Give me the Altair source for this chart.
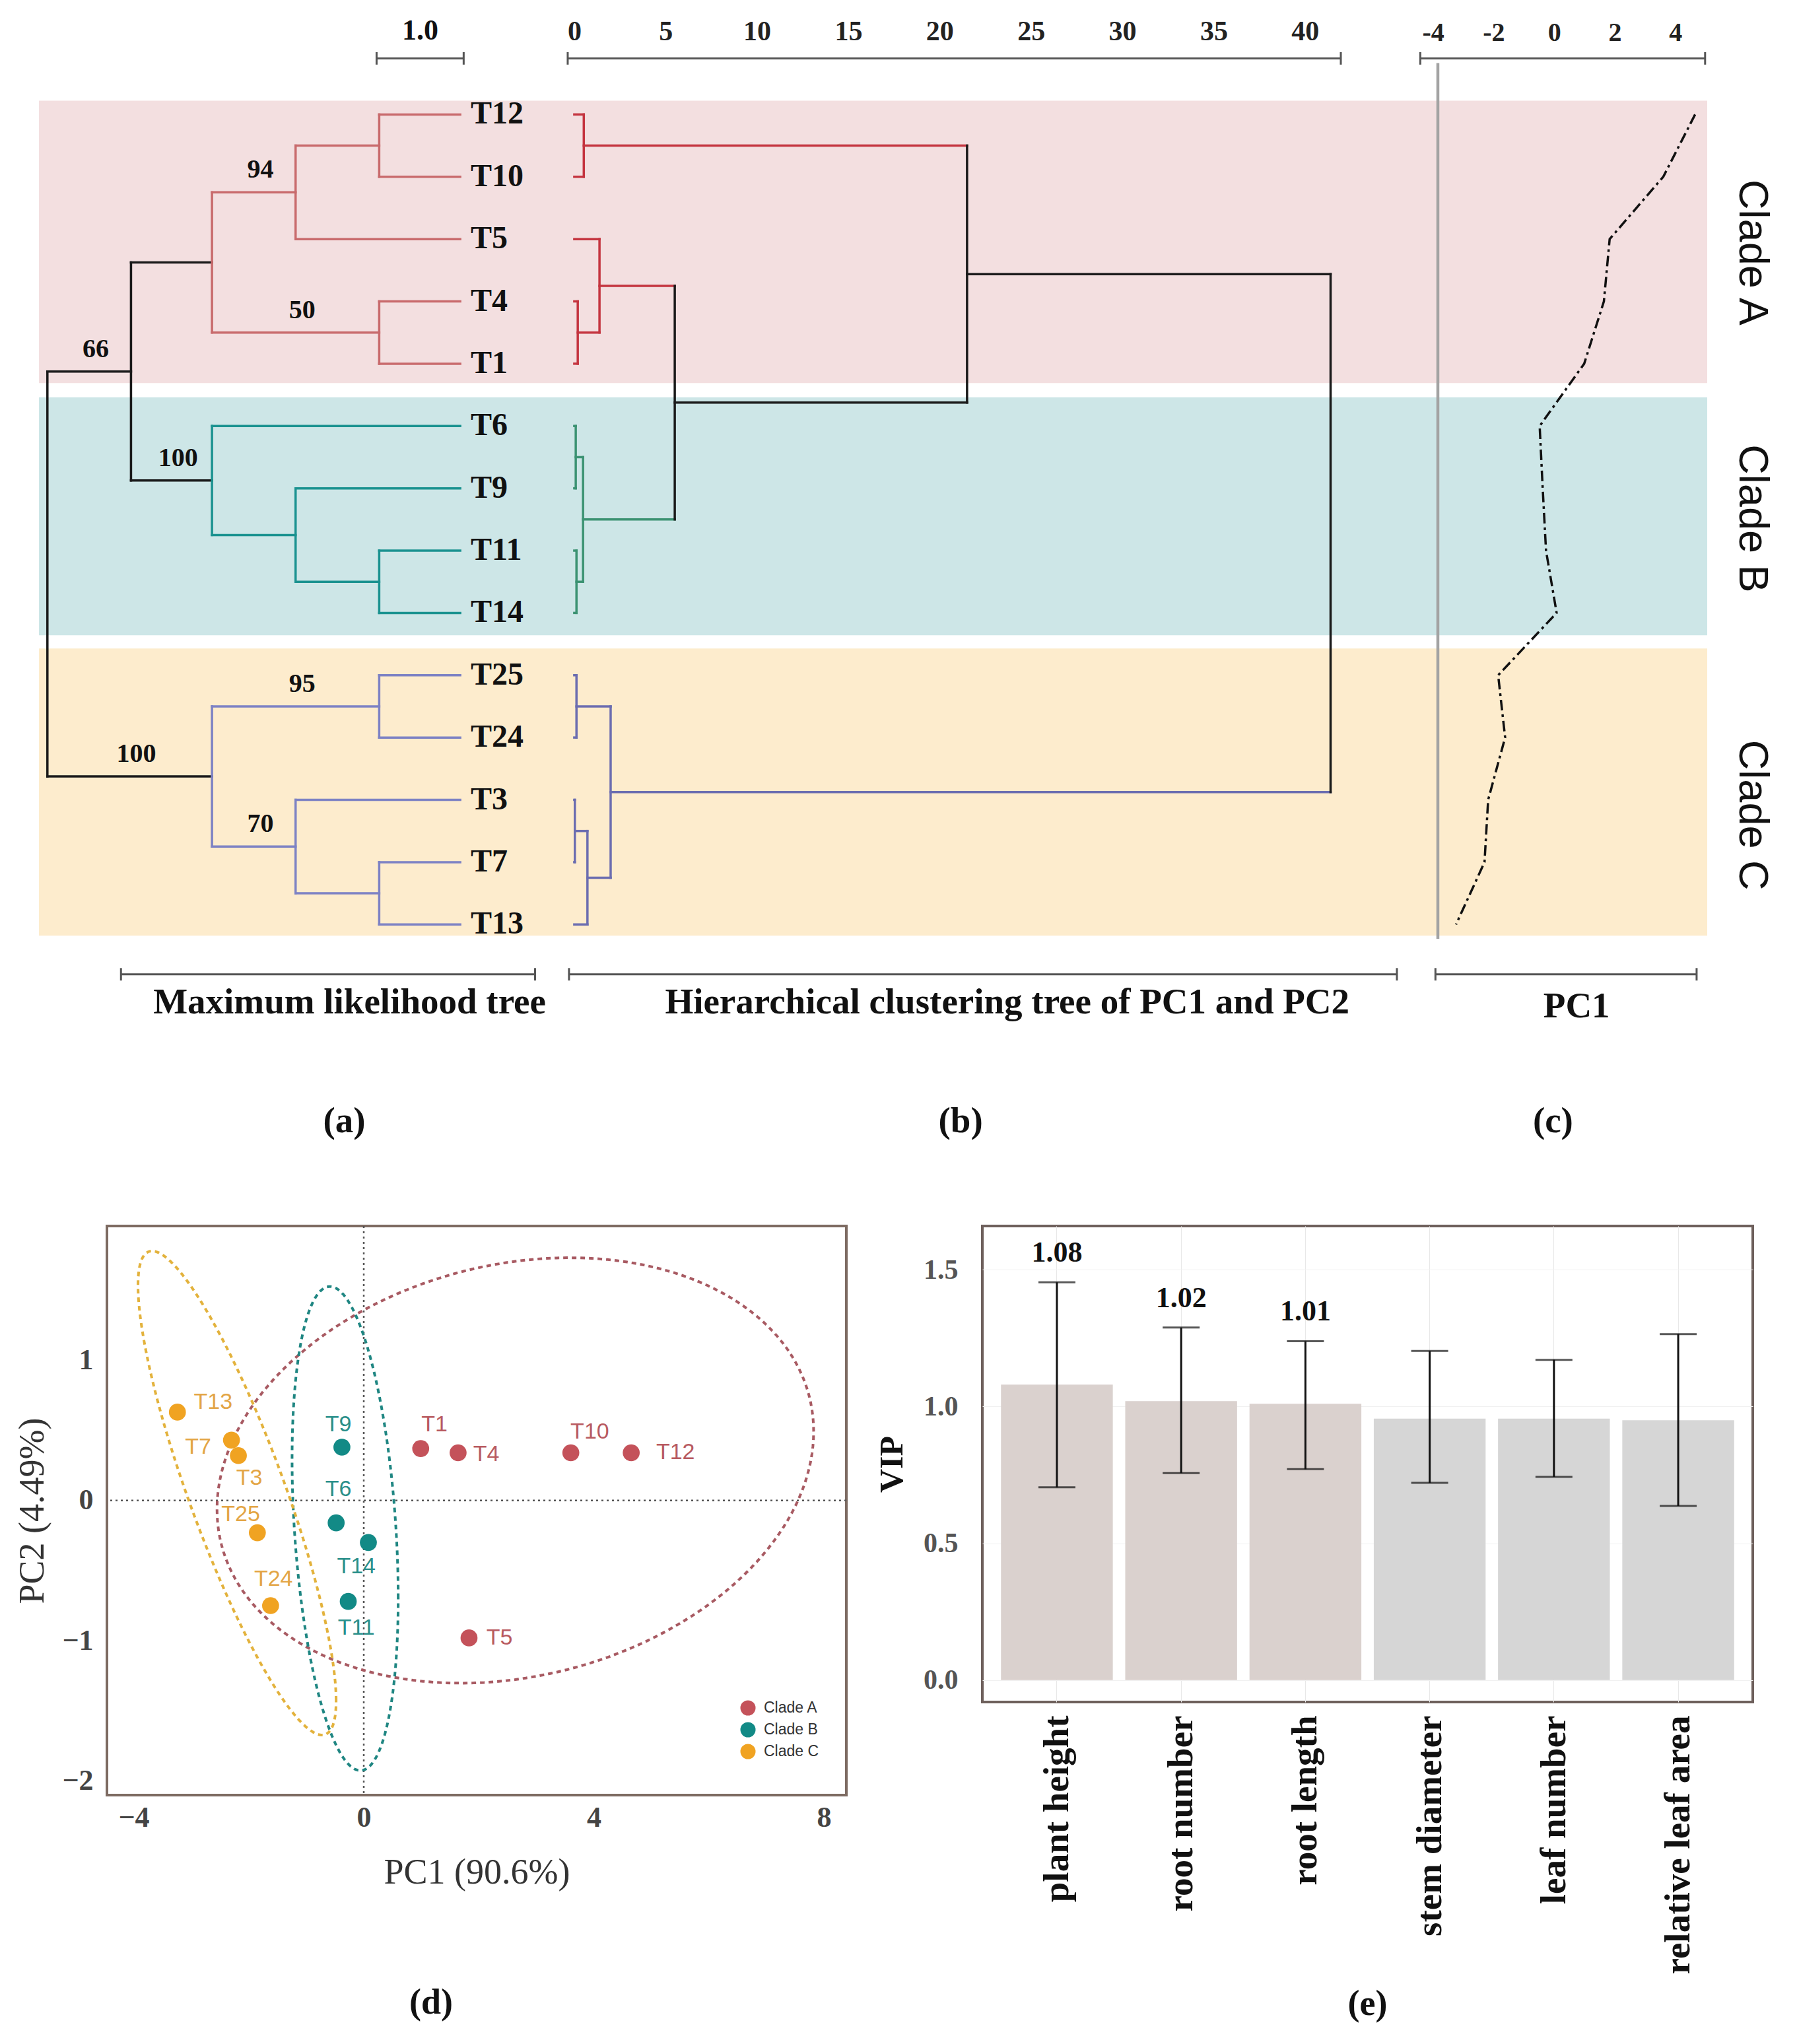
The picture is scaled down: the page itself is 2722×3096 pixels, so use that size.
import altair as alt
import pandas as pd
import numpy as np

SERIF = "Liberation Serif"
SANS = "Liberation Sans"

# ---------------- data ----------------
LEAVES = ["T12", "T10", "T5", "T4", "T1", "T6", "T9", "T11", "T14",
          "T25", "T24", "T3", "T7", "T13"]
LEAF_CLADE = ["A", "A", "A", "A", "A", "B", "B", "B", "B",
              "C", "C", "C", "C", "C"]
PC1 = [4.65, 3.60, 1.83, 1.64, 0.99, -0.48, -0.38, -0.27, 0.08,
       -1.85, -1.62, -2.18, -2.30, -3.24]
PC2 = [0.34, 0.34, -0.98, 0.34, 0.37, -0.16, 0.38, -0.72, -0.30,
       -0.23, -0.75, 0.32, 0.43, 0.63]

# maximum likelihood tree (cladogram): node, parent, depth
ML_NODE = ["root", "n66", "nA", "n94", "n1210", "T12", "T10", "T5", "n50", "T4", "T1",
           "nB", "T6", "nB2", "T9", "nB3", "T11", "T14",
           "nC", "n95", "T25", "T24", "n70", "T3", "n713", "T7", "T13"]
ML_PARENT = [None, "root", "n66", "nA", "n94", "n1210", "n1210", "n94", "nA", "n50", "n50",
             "n66", "nB", "nB", "nB2", "nB2", "nB3", "nB3",
             "root", "nC", "n95", "n95", "nC", "n70", "n70", "n713", "n713"]
ML_DEPTH = [0.0, 0.96, 1.89, 2.85, 3.81, 4.74, 4.74, 4.74, 3.81, 4.74, 4.74,
            1.89, 4.74, 2.85, 4.74, 3.81, 4.74, 4.74,
            1.89, 3.81, 4.74, 4.74, 2.85, 4.74, 3.81, 4.74, 4.74]
ML_BOOTSTRAP = {"n66": 66, "n94": 94, "n50": 50, "nB": 100, "n95": 95, "nC": 100, "n70": 70}
ML_CLADE_ROOT = {"nA": "A", "nB": "B", "nC": "C"}

# hierarchical clustering (PC1, PC2): merge, left, right, height
HC_MERGE = ["m1", "m2", "m3", "m4", "m5", "m6", "m7", "m8", "m9", "m10", "m11", "m12", "m13"]
HC_LEFT = ["T12", "T4", "T5", "T6", "T11", "m4", "m3", "m1", "T25", "T3", "m10", "m9", "m8"]
HC_RIGHT = ["T10", "T1", "m2", "T9", "T14", "m5", "m6", "m7", "T24", "T7", "T13", "m11", "m12"]
HC_HEIGHT = [0.52, 0.19, 1.38, 0.08, 0.12, 0.48, 5.5, 21.5, 0.12, 0.03, 0.72, 1.99, 41.4]

CLADE_NAMES = ["Clade A", "Clade B", "Clade C"]
BAND_TOP = [-0.22, 4.54, 8.57]
BAND_BOTTOM = [4.31, 8.36, 13.18]
CLADE_LABEL_POS = [2.21, 6.48, 11.24]

# PCA label anchors
PCA_LABEL_X = [5.42, 3.93, 2.36, 2.13, 1.23, -0.44, -0.44, -0.13, -0.13,
               -2.14, -1.57, -1.99, -2.88, -2.62]
PCA_LABEL_Y = [0.34, 0.49, -0.98, 0.33, 0.54, 0.08, 0.54, -0.91, -0.47,
               -0.10, -0.56, 0.16, 0.38, 0.70]
# confidence ellipses: centre and covariance
ELL_CX = [2.635, -0.324, -2.203]
ELL_CY = [0.214, -0.20, 0.053]
ELL_SXX = [26.9, 0.851, 2.966]
ELL_SYY = [2.30, 2.978, 2.978]
ELL_SXY = [1.437, -0.457, -2.549]

TRAITS = ["plant height", "root number", "root length", "stem diameter",
          "leaf number", "relative leaf area"]
VIP = [1.08, 1.02, 1.01, 0.956, 0.956, 0.95]
VIP_HI = [1.454, 1.289, 1.239, 1.203, 1.171, 1.265]
VIP_LO = [0.705, 0.757, 0.771, 0.721, 0.743, 0.637]
VIP_LABEL = ["1.08", "1.02", "1.01", "", "", ""]

# ---------------- styles ----------------
TREE_COL = {"A": "#c86a6c", "B": "#1a9290", "C": "#7d82c4", "root": "#1a1a1a"}
HC_COL = {"A": "#c4343f", "B": "#3b9272", "C": "#6b6db0", "root": "#1a1a1a"}
BAND_COL = ["#f3dfe0", "#cde6e7", "#fdeccd"]
PCA_COL = ["#c4525a", "#128a86", "#f0a322"]
PCA_TXT = ["#b85a60", "#2a8f8a", "#e3a545"]
ELL_COL = ["#a85a62", "#1f8682", "#e3b23c"]

DOM_A = [-0.097, 5.96]
DOM_B = [-0.43, 46.26]
DOM_C = [-4.45, 5.05]
DOM_Y = [-1.0, 16.6]
W_A, W_B, W_C, H_TOP = 799, 1292, 436, 1661


def xq(field, dom, axis=None):
    return alt.X(field, type="quantitative",
                 scale=alt.Scale(domain=dom, nice=False, zero=False), axis=axis)


def yq(field, axis=None):
    return alt.Y(field, type="quantitative",
                 scale=alt.Scale(domain=DOM_Y, nice=False, zero=False, reverse=True),
                 axis=axis)


def band_layer(dom, xaxis=None, yaxis=None):
    df = pd.DataFrame({"x": [dom[0]] * 3, "x2": [dom[1]] * 3,
                       "y": BAND_TOP, "y2": BAND_BOTTOM, "col": BAND_COL})
    return alt.Chart(df).mark_rect().encode(
        x=xq("x", dom, xaxis), x2=alt.X2("x2"), y=yq("y", yaxis), y2=alt.Y2("y2"),
        color=alt.Color("col:N", scale=None))


def seg_layer(rows, dom, width, xaxis=None, yaxis=None, cap="square"):
    df = pd.DataFrame(rows)
    return alt.Chart(df).mark_rule(strokeWidth=width, strokeCap=cap).encode(
        x=xq("x", dom, xaxis), x2=alt.X2("x2"), y=yq("y", yaxis), y2=alt.Y2("y2"),
        color=alt.Color("col:N", scale=None))


def text_layer(rows, dom, size, xaxis=None, yaxis=None, **kw):
    props = dict(font=SERIF, fontSize=size, fontWeight="bold", color="#111",
                 baseline="middle", align="center")
    props.update(kw)
    df = pd.DataFrame(rows)
    return alt.Chart(df).mark_text(**props).encode(
        x=xq("x", dom, xaxis), y=yq("y", yaxis), text="text:N")


def bracket(x1, x2, y, col="#555", cap=0.1):
    return [dict(x=x1, x2=x2, y=y, y2=y, col=col),
            dict(x=x1, x2=x1, y=y - cap, y2=y + cap, col=col),
            dict(x=x2, x2=x2, y=y - cap, y2=y + cap, col=col)]


leaf_idx = {n: float(i) for i, n in enumerate(LEAVES)}

# ---------------- (a) maximum likelihood tree ----------------
parent = dict(zip(ML_NODE, ML_PARENT))
depth = dict(zip(ML_NODE, ML_DEPTH))
children = {}
for n, p in zip(ML_NODE, ML_PARENT):
    if p is not None:
        children.setdefault(p, []).append(n)


def node_y(n):
    if n in leaf_idx:
        return leaf_idx[n]
    ys = [node_y(c) for c in children[n]]
    return (min(ys) + max(ys)) / 2


def clade_of(n):
    while n is not None:
        if n in ML_CLADE_ROOT:
            return ML_CLADE_ROOT[n]
        n = parent[n]
    return "root"


ny = {n: node_y(n) for n in ML_NODE}
ml_rows = []
for n in ML_NODE:
    p = parent[n]
    if p is not None:
        ml_rows.append(dict(x=depth[p], x2=depth[n], y=ny[n], y2=ny[n],
                            col=TREE_COL[clade_of(p)]))
    if n in children:
        ys = [ny[c] for c in children[n]]
        ml_rows.append(dict(x=depth[n], x2=depth[n], y=min(ys), y2=max(ys),
                            col=TREE_COL[clade_of(n)]))

leaf_rows = [dict(x=depth[n], y=leaf_idx[n], text=n) for n in LEAVES]
boot_rows = [dict(x=(depth[parent[n]] + depth[n]) / 2, y=ny[n], text=str(v))
             for n, v in ML_BOOTSTRAP.items()]

panel_a = alt.layer(
    band_layer(DOM_A),
    seg_layer(ml_rows, DOM_A, 3.5),
    text_layer(leaf_rows, DOM_A, 48, align="left", dx=16),
    text_layer(boot_rows, DOM_A, 40, dx=10, dy=-34),
    seg_layer(bracket(3.78, 4.78, -0.90) + bracket(0.845, 5.60, 13.8), DOM_A, 3, cap="butt"),
    text_layer([dict(x=4.28, y=-1.34, text="1.0")], DOM_A, 44),
    text_layer([dict(x=3.47, y=14.25, text="Maximum likelihood tree"),
                dict(x=3.41, y=16.16, text="(a)")], DOM_A, 55),
).properties(width=W_A, height=H_TOP)

# ---------------- (b) hierarchical clustering ----------------
hc_y = dict(leaf_idx)
hc_h = {n: 0.0 for n in LEAVES}
hc_cl = {n: {c} for n, c in zip(LEAVES, LEAF_CLADE)}


def hc_color(n):
    s = hc_cl[n]
    return HC_COL[next(iter(s))] if len(s) == 1 else HC_COL["root"]


hc_rows = []
for m, l, r, h in zip(HC_MERGE, HC_LEFT, HC_RIGHT, HC_HEIGHT):
    hc_y[m] = (hc_y[l] + hc_y[r]) / 2
    hc_h[m] = h
    hc_cl[m] = hc_cl[l] | hc_cl[r]
    for c in (l, r):
        hc_rows.append(dict(x=hc_h[c], x2=h, y=hc_y[c], y2=hc_y[c], col=hc_color(c)))
    hc_rows.append(dict(x=h, x2=h, y=hc_y[l], y2=hc_y[r], col=hc_color(m)))

AX_B = alt.Axis(orient="top", values=list(range(0, 41, 5)), labelFont=SERIF,
                labelFontSize=42, labelFontWeight="bold", labelColor="#222",
                domain=False, ticks=False, tickSize=0, grid=False, labelPadding=10,
                title=None, labelFlush=False, labelOverlap=False)

panel_b = alt.layer(
    band_layer(DOM_B, AX_B),
    seg_layer(hc_rows, DOM_B, 3.5, AX_B),
    seg_layer(bracket(-0.36, 41.96, -0.90) + bracket(-0.29, 45.03, 13.8), DOM_B, 3, AX_B, cap="butt"),
    text_layer([dict(x=23.7, y=14.25, text="Hierarchical clustering tree of PC1 and PC2"),
                dict(x=21.15, y=16.16, text="(b)")], DOM_B, 55, AX_B),
).properties(width=W_B, height=H_TOP)

# ---------------- (c) PC1 profile ----------------
AX_C = alt.Axis(orient="top", values=[-4, -2, 0, 2, 4], labelExpr="toString(datum.value)",
                labelFont=SERIF, labelFontSize=40, labelFontWeight="bold", labelColor="#222",
                domain=False, ticks=False, tickSize=0, grid=False, labelPadding=10,
                title=None, labelFlush=False, labelOverlap=False)
thr1 = (CLADE_LABEL_POS[0] + CLADE_LABEL_POS[1]) / 2
thr2 = (CLADE_LABEL_POS[1] + CLADE_LABEL_POS[2]) / 2
AX_CLADE = alt.Axis(orient="right", values=CLADE_LABEL_POS,
                    labelExpr=f"datum.value < {thr1} ? '{CLADE_NAMES[0]}' : (datum.value < {thr2} ? '{CLADE_NAMES[1]}' : '{CLADE_NAMES[2]}')",
                    labelAngle=90, labelAlign="center", labelBaseline="bottom",
                    labelFont=SANS, labelFontSize=63, labelColor="#111", labelPadding=35,
                    labelLimit=0, domain=False, ticks=False, tickSize=0, grid=False,
                    title=None, labelOverlap=False)

pc_df = pd.DataFrame({"leaf": LEAVES, "idx": [leaf_idx[n] for n in LEAVES], "pc1": PC1})
pc_line = alt.Chart(pc_df).mark_line(color="#111", strokeWidth=3.5, strokeDash=[16, 6, 4, 6]).encode(
    x=xq("pc1", DOM_C, AX_C), y=yq("idx", AX_CLADE), order="idx:Q")

panel_c = alt.layer(
    band_layer(DOM_C, AX_C, AX_CLADE),
    seg_layer([dict(x=-3.84, x2=-3.84, y=-0.825, y2=13.23, col="#a3a3a3")], DOM_C, 4.5,
              AX_C, AX_CLADE, cap="butt"),
    pc_line,
    seg_layer(bracket(-4.42, 4.98, -0.90) + bracket(-3.92, 4.70, 13.8), DOM_C, 3, AX_C,
              AX_CLADE, cap="butt"),
    text_layer([dict(x=0.74, y=14.31, text="PC1"),
                dict(x=-0.04, y=16.16, text="(c)")], DOM_C, 55, AX_C, AX_CLADE),
).properties(width=W_C, height=H_TOP)

top = alt.hconcat(panel_a, panel_b, panel_c, spacing=0, bounds="flush")

# ---------------- (d) PCA ----------------
DOM_PX = [-4.465, 8.39]
DOM_PY = [-2.101, 1.957]
AX_PX = alt.Axis(values=[-4, 0, 4, 8], title="PC1 (90.6%)", labelFont=SERIF, labelFontSize=44,
                 labelFontWeight="bold", labelColor="#444", domain=False, ticks=False,
                 grid=False, labelPadding=12, titleFont=SERIF, titleFontSize=54,
                 titleFontWeight="normal", titleColor="#333", titlePadding=34)
AX_PY = alt.Axis(values=[-2, -1, 0, 1], title="PC2 (4.49%)", labelFont=SERIF, labelFontSize=44,
                 labelFontWeight="bold", labelColor="#444", domain=False, ticks=False,
                 grid=False, labelPadding=21, titleFont=SERIF, titleFontSize=54,
                 titleFontWeight="normal", titleColor="#333", titlePadding=17)


def px(f):
    return alt.X(f, type="quantitative", scale=alt.Scale(domain=DOM_PX, nice=False, zero=False), axis=AX_PX)


def py(f):
    return alt.Y(f, type="quantitative", scale=alt.Scale(domain=DOM_PY, nice=False, zero=False), axis=AX_PY)


pca_df = pd.DataFrame({
    "leaf": LEAVES,
    "clade": [CLADE_NAMES["ABC".index(c)] for c in LEAF_CLADE],
    "pc1": PC1, "pc2": PC2, "lx": PCA_LABEL_X, "ly": PCA_LABEL_Y,
    "lcol": [PCA_TXT["ABC".index(c)] for c in LEAF_CLADE],
})

tt = np.linspace(0, 2 * np.pi, 181)
ell_rows = []
for k, name in enumerate(CLADE_NAMES):
    S = np.array([[ELL_SXX[k], ELL_SXY[k]], [ELL_SXY[k], ELL_SYY[k]]])
    L = np.linalg.cholesky(S)
    pts = L @ np.vstack([np.cos(tt), np.sin(tt)])
    for i in range(len(tt)):
        ell_rows.append(dict(clade=name, i=i, x=ELL_CX[k] + pts[0, i],
                             y=ELL_CY[k] + pts[1, i], col=ELL_COL[k]))
ell_df = pd.DataFrame(ell_rows)
zero_df = pd.DataFrame({"v": [0.0]})

pca = alt.layer(
    alt.Chart(zero_df).mark_rule(color="#555", strokeWidth=2.5, strokeDash=[3, 5]).encode(x=px("v")),
    alt.Chart(zero_df).mark_rule(color="#555", strokeWidth=2.5, strokeDash=[3, 5]).encode(y=py("v")),
    alt.Chart(ell_df).mark_line(strokeWidth=4, strokeDash=[7, 6]).encode(
        x=px("x"), y=py("y"), detail="clade:N", order="i:Q",
        color=alt.Color("col:N", scale=None)),
    alt.Chart(pca_df).mark_circle(size=660, opacity=1).encode(
        x=px("pc1"), y=py("pc2"),
        color=alt.Color("clade:N", scale=alt.Scale(domain=CLADE_NAMES, range=PCA_COL),
                        legend=alt.Legend(title=None, orient="none", legendX=959, legendY=718,
                                          labelFont=SANS, labelFontSize=23, labelColor="#333",
                                          symbolType="circle", symbolSize=530,
                                          symbolStrokeWidth=0, rowPadding=9, padding=0,
                                          labelOffset=12))),
    alt.Chart(pca_df).mark_text(font=SANS, fontSize=34, align="center", baseline="middle").encode(
        x=px("lx"), y=py("ly"), text="leaf:N", color=alt.Color("lcol:N", scale=None)),
).resolve_scale(color="independent").properties(
    width=1120, height=862,
    view=alt.ViewBackground(stroke="#7d6b62", strokeWidth=4),
    title=alt.TitleParams("(d)", orient="bottom", font=SERIF, fontSize=54, fontWeight="bold",
                          color="#111", offset=144, dx=-69, anchor="middle", frame="group"),
)

# ---------------- (e) VIP ----------------
DOM_V = [-0.08, 1.66]
vip_df = pd.DataFrame({"trait": TRAITS, "vip": VIP, "lo": VIP_LO, "hi": VIP_HI,
                       "label": VIP_LABEL})
vip_df["base"] = 0.0
vip_df["col"] = np.where(vip_df["vip"] > 1, "#dad1ce", "#d6d6d6")

AX_VX = alt.Axis(labelAngle=-90, labelFont=SERIF, labelFontSize=55, labelFontWeight="bold",
                 labelColor="#111", domain=False, ticks=False, grid=True, gridColor="#e8e8e8",
                 labelPadding=20, labelLimit=0, title=None)
AX_VY = alt.Axis(values=[0, 0.5, 1.0, 1.5], format=".1f", labelFont=SERIF, labelFontSize=42,
                 labelFontWeight="bold", labelColor="#555", domain=False, ticks=False,
                 grid=True, gridColor="#f1f1f1", labelPadding=37, title="VIP",
                 titleFont=SERIF, titleFontSize=50, titleFontWeight="bold", titleColor="#111",
                 titlePadding=22)
XV = alt.X("trait:N", sort=TRAITS, scale=alt.Scale(paddingInner=0.1, paddingOuter=0.15), axis=AX_VX)


def yv(f):
    return alt.Y(f, type="quantitative", scale=alt.Scale(domain=DOM_V, nice=False, zero=False), axis=AX_VY)


vb = alt.Chart(vip_df)
vip = alt.layer(
    vb.mark_bar().encode(x=XV, y=yv("vip"), y2=alt.Y2("base"), color=alt.Color("col:N", scale=None)),
    vb.mark_rule(color="#111", strokeWidth=3).encode(x=XV, y=yv("lo"), y2=alt.Y2("hi")),
    vb.mark_tick(color="#111", size=56, thickness=3).encode(x=XV, y=yv("hi")),
    vb.mark_tick(color="#111", size=56, thickness=3).encode(x=XV, y=yv("lo")),
    vb.mark_text(dy=-22, baseline="bottom", font=SERIF, fontWeight="bold", fontSize=44,
                 color="#111").encode(x=XV, y=yv("hi"), text="label:N"),
).properties(
    width=1167, height=721,
    view=alt.ViewBackground(stroke="#6e605c", strokeWidth=4),
    title=alt.TitleParams("(e)", orient="bottom", font=SERIF, fontSize=54, fontWeight="bold",
                          color="#111", offset=19, anchor="middle", frame="group"),
)

spacer = alt.Chart(pd.DataFrame({"v": [0.0]})).mark_point(opacity=0).encode(
    x=alt.X("v:Q", axis=None), y=alt.Y("v:Q", axis=None)).properties(width=103, height=10)

bottom = alt.hconcat(spacer, alt.hconcat(pca, vip, spacing=206, bounds="flush"),
                     spacing=0, bounds="flush")

chart = alt.vconcat(top, bottom, spacing=113).properties(
    padding={"left": 12, "top": 16, "right": 25, "bottom": 5}, background="white"
).configure_view(stroke=None)

chart.save("out.html", embed_options={"renderer": "svg", "actions": False})
